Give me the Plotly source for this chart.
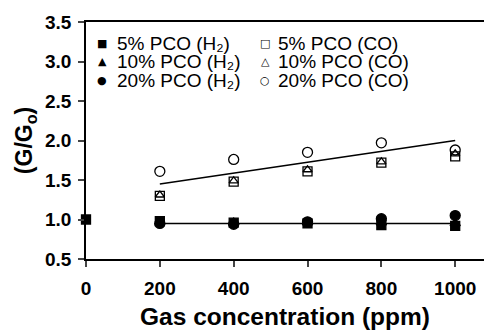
import plotly.graph_objects as go

conc = [200, 400, 600, 800, 1000]
conc_h2_5 = [0, 200, 400, 600, 800, 1000]

h2_5 = [1.00, 0.98, 0.96, 0.95, 0.93, 0.92]
h2_10 = [0.97, 0.96, 0.96, 0.96, 0.95]
h2_20 = [0.95, 0.94, 0.97, 1.01, 1.05]

co_5 = [1.30, 1.48, 1.61, 1.72, 1.80]
co_10 = [1.31, 1.49, 1.63, 1.73, 1.83]
co_20 = [1.61, 1.76, 1.85, 1.97, 1.88]

fit_x = [200, 1000]
fit_co = [1.45, 2.00]
fit_h2 = [0.95, 0.95]

x_ticks = [0, 200, 400, 600, 800, 1000]
y_ticks = [0.5, 1.0, 1.5, 2.0, 2.5, 3.0, 3.5]

legend_names = [
    ["5% PCO (H\u2082)", "5% PCO (CO)"],
    ["10% PCO (H\u2082)", "10% PCO (CO)"],
    ["20% PCO (H\u2082)", "20% PCO (CO)"],
]
legend_glyphs = [["\u25A0", "\u25A1"], ["\u25B2", "\u25B3"], ["\u25CF", "\u25CB"]]

W, H = 484, 334
ML, MR, MT, MB = 86, 0, 22, 75
PW, PH = W - ML - MR, H - MT - MB


def px_x(px):
    return (px - ML) / PW


def px_y(py):
    return 1 - (py - MT) / PH


fig = go.Figure()

fig.add_trace(go.Scatter(x=fit_x, y=fit_co, mode="lines", line=dict(color="black", width=1.6),
                         showlegend=False, hoverinfo="skip"))
fig.add_trace(go.Scatter(x=fit_x, y=fit_h2, mode="lines", line=dict(color="black", width=1.6),
                         showlegend=False, hoverinfo="skip"))

mk_line = dict(color="black", width=1.3)

fig.add_trace(go.Scatter(x=conc_h2_5, y=h2_5, mode="markers", name="5% PCO (H2)",
                         marker=dict(symbol="square", size=9, color="black", line=mk_line)))
fig.add_trace(go.Scatter(x=conc, y=h2_10, mode="markers", name="10% PCO (H2)",
                         marker=dict(symbol="triangle-up", size=9, color="black", line=mk_line)))
fig.add_trace(go.Scatter(x=conc, y=h2_20, mode="markers", name="20% PCO (H2)",
                         marker=dict(symbol="circle", size=10, color="black", line=mk_line)))
fig.add_trace(go.Scatter(x=conc, y=co_5, mode="markers", name="5% PCO (CO)",
                         marker=dict(symbol="square-open", size=9, color="black", line=mk_line)))
fig.add_trace(go.Scatter(x=conc, y=co_10, mode="markers", name="10% PCO (CO)",
                         marker=dict(symbol="triangle-up-open", size=8, color="black", line=mk_line)))
fig.add_trace(go.Scatter(x=conc, y=co_20, mode="markers", name="20% PCO (CO)",
                         marker=dict(symbol="circle-open", size=10, color="black", line=mk_line)))

fig.update_traces(cliponaxis=False)

row_y = [44, 62, 80]
col_marker_x = [102, 265]
col_text_x = [116, 277]
annotations = []
for r in range(3):
    for c in range(2):
        annotations.append(dict(
            x=px_x(col_marker_x[c]), y=px_y(row_y[r]), xref="paper", yref="paper",
            text=legend_glyphs[r][c], showarrow=False, xanchor="center", yanchor="middle",
            borderpad=0,
            font=dict(family="DejaVu Sans", size=11, color="black")))
        annotations.append(dict(
            x=px_x(col_text_x[c]), y=px_y(row_y[r]), xref="paper", yref="paper",
            text=legend_names[r][c], showarrow=False, xanchor="left", yanchor="middle",
            borderpad=0,
            font=dict(family="Liberation Sans", size=19, color="black")))

fig.update_layout(
    width=W, height=H,
    margin=dict(l=ML, r=MR, t=MT, b=MB),
    paper_bgcolor="white", plot_bgcolor="white",
    showlegend=False,
    annotations=annotations,
    xaxis=dict(range=[0, 1078], tickvals=x_ticks, ticks="outside", ticklen=6, tickwidth=1.5,
               showline=True, linecolor="black", linewidth=1.5, mirror=True, showgrid=False,
               zeroline=False, ticklabelstandoff=5,
               tickfont=dict(family="Liberation Sans", size=19, color="black", weight="bold"),
               title=dict(text="<b>Gas concentration (ppm)</b>", standoff=10,
                          font=dict(family="Liberation Sans", size=24.5, color="black"))),
    yaxis=dict(range=[0.5, 3.5], tickvals=y_ticks, tickformat=".1f", ticks="outside", ticklen=6,
               tickwidth=1.5, showline=True, linecolor="black", linewidth=1.5, showgrid=False,
               zeroline=False, ticklabelstandoff=3,
               tickfont=dict(family="Liberation Sans", size=19, color="black", weight="bold"),
               title=dict(text="<b>(G/G<sub>o</sub>)</b>", standoff=6,
                          font=dict(family="Liberation Sans", size=23, color="black"))),
)

fig.write_html("out.html")
